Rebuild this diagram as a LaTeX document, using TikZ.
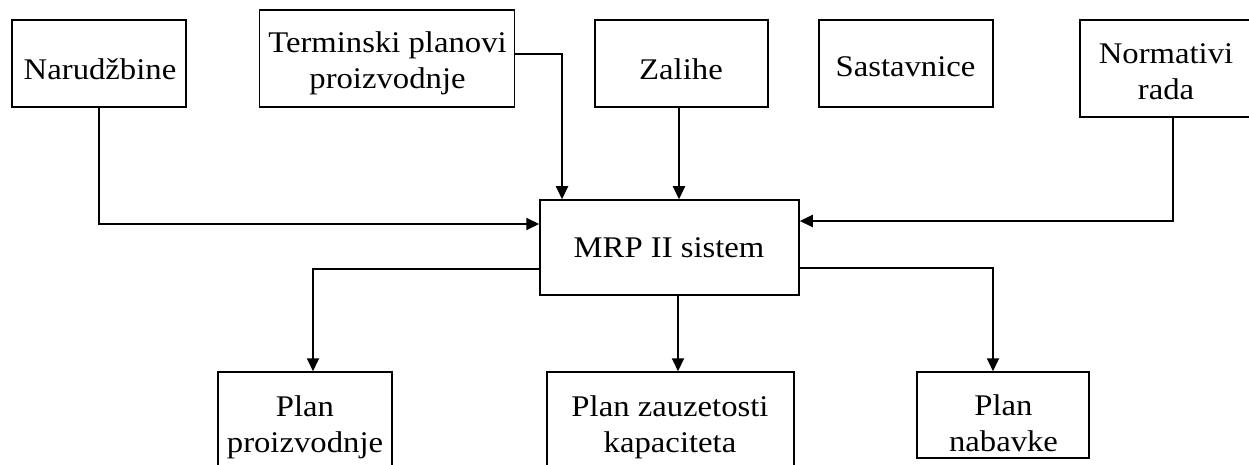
\documentclass[tikz,border=0pt]{standalone}
\usepackage{fontspec}
\setmainfont{Liberation Serif}[FakeStretch=1.09]
\usetikzlibrary{arrows.meta}
\tikzstyle{block}=[draw, line width=1.5pt, inner sep=0pt]
\tikzstyle{blocktext}=[inner sep=0pt, align=center, font=\fontsize{30}{36}\selectfont]
\tikzstyle{flow}=[line width=2pt, -{Triangle[length=13pt,width=12pt]}]

\begin{document}
\begin{tikzpicture}[x=1pt, y=-1pt]
  \useasboundingbox (0,0) rectangle (1249,465);
  \clip (0,0) rectangle (1249,465);

  % Input boxes
  \node (narudzbine) at (99,63.5) [block, minimum width=174pt, minimum height=87pt] {};
  \node (narudzbinetext) at (100,69.5) [blocktext] {Narudžbine};

  \node (terminski) at (387,58.5) [block, minimum width=255pt, minimum height=97pt] {};
  \node (terminskitext) at (387.5,63) [blocktext] {Terminski planovi\\proizvodnje};

  \node (zalihe) at (681.5,63.5) [block, minimum width=173pt, minimum height=87pt] {};
  \node (zalihetext) at (681,69.5) [blocktext] {Zalihe};

  \node (sastavnice) at (906,63.5) [block, minimum width=174pt, minimum height=87pt] {};
  \node (sastavnicetext) at (905.5,67) [blocktext] {Sastavnice};

  \node (normativi) at (1173,68.5) [block, minimum width=186pt, minimum height=97pt] {};
  \node (normativitext) at (1166,71.5) [blocktext] {Normativi\\rada};

  % MRP
  \node (mrp) at (669.5,247.5) [block, minimum width=259pt, minimum height=95pt] {};
  \node (mrptext) at (669,247.5) [blocktext] {MRP II sistem};

  % Output boxes
  \node (planproizvodnje) at (305,426) [block, minimum width=174pt, minimum height=108pt] {};
  \node (planproizvodnjetext) at (305,427) [blocktext] {Plan\\proizvodnje};

  \node (planzauzetosti) at (670.5,426) [block, minimum width=247pt, minimum height=108pt] {};
  \node (planzauzetostitext) at (670,427) [blocktext] {Plan zauzetosti\\kapaciteta};

  \node (plannabavke) at (1003,415) [block, minimum width=172pt, minimum height=86pt] {};
  \node (plannabavketext) at (1003.5,423.5) [blocktext] {Plan\\nabavke};

  % Connections
  \draw[flow] (narudzbine.south) |- ([yshift=23.5pt]mrp.west);
  \draw[flow] ([yshift=4.5pt]terminski.east) -| ([xshift=-107.5pt]mrp.north);
  \draw[flow] ([xshift=-2.5pt]zalihe.south) -- ([xshift=-2.5pt]zalihe.south |- mrp.north);
  \draw[flow] (normativi.south) |- ([yshift=26.5pt]mrp.east);
  \draw[flow] ([yshift=-21.5pt]mrp.west) -| ([xshift=8pt]planproizvodnje.north);
  \draw[flow] ([xshift=8.5pt]mrp.south) -- ([xshift=8.5pt]mrp.south |- planzauzetosti.north);
  \draw[flow] ([yshift=-20.5pt]mrp.east) -| ([xshift=-10pt]plannabavke.north);

\end{tikzpicture}
\end{document}
